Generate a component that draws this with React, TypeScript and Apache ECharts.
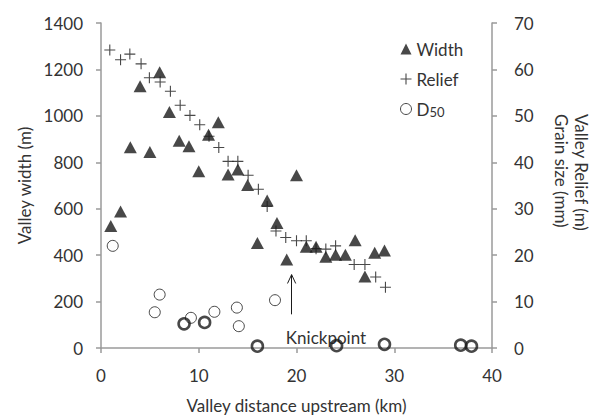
import React, { useEffect, useRef } from "react";
import * as echarts from "echarts";

// Valley width (m) vs distance upstream (km)
const widthKm = [1, 2, 3, 4, 5, 6, 7, 8, 9, 10, 11, 12, 13, 14, 15, 16, 17, 18, 19, 20, 21, 22, 23, 24, 25, 26, 27, 28, 29];
const widthM = [526, 588, 865, 1128, 844, 1188, 1017, 893, 869, 761, 919, 972, 747, 769, 702, 452, 635, 538, 381, 744, 436, 436, 393, 402, 402, 464, 308, 410, 420];

// Valley relief (m) vs distance upstream (km)
const reliefKm = [0.9, 2.0, 2.95, 4.1, 4.95, 6.05, 7.1, 8.1, 9.1, 10.1, 11.05, 12.05, 13.0, 14.0, 15.05, 16.1, 17.0, 17.9, 18.9, 20.0, 21.0, 22.0, 23.0, 24.0, 25.9, 27.0, 28.1, 29.1];
const reliefM = [64.2, 62.1, 63.3, 61.2, 58.2, 57.3, 55.3, 52.3, 50.1, 48.1, 45.6, 43.2, 40.2, 40.2, 37.2, 34.2, 30.5, 25.2, 23.8, 23.1, 23.1, 21.4, 21.3, 22.0, 18.0, 18.0, 15.3, 13.1];

// Grain size D50 (mm) vs distance upstream (km); samples = overlapping points
const d50Km = [1.2, 5.5, 6.0, 8.5, 9.2, 10.6, 11.6, 13.9, 14.1, 16.0, 17.8, 24.1, 29.0, 36.8, 37.9];
const d50Mm = [22.0, 7.7, 11.5, 5.2, 6.5, 5.5, 7.8, 8.7, 4.7, 0.4, 10.3, 0.5, 0.8, 0.6, 0.4];
const d50Samples = [1, 1, 1, 2, 1, 2, 1, 1, 1, 2, 1, 2, 2, 2, 2];

// Axis ticks
const xTicks = { min: 0, max: 40, interval: 10 };
const yLeftTicks = { min: 0, max: 1400, interval: 200 };
const yRightTicks = { min: 0, max: 70, interval: 10 };

// Knickpoint annotation (data coordinates on the width axis)
const knickKm = 19.5;
const knickFromM = 145;
const knickToM = 316;

const FONT = "Lato";
const TXT = "#333333";
const AX = "#9a9a9a";
const MARK = "#1a1a1a";

const plusPath = "path://M0,9H20V11H0Z M9,0H11V20H9Z";

export default function App() {
  const ref = useRef<HTMLDivElement>(null);
  useEffect(() => {
    document.body.style.margin = "0";
    const chart = echarts.init(ref.current!, null, { renderer: "svg" });
    const axisCommon = {
      axisLine: { show: true, lineStyle: { color: AX, width: 1.5 } },
      axisTick: { show: true, inside: false, length: 5, lineStyle: { color: AX, width: 1.5 } },
      splitLine: { show: false },
    };
    const plain = (v: number) => String(v);
    const option: any = {
      animation: false,
      textStyle: { fontFamily: FONT },
      grid: { left: 101, right: 102, top: 23, bottom: 68, containLabel: false },
      legend: {
        data: [
          { name: "Width" },
          { name: "Relief" },
          { name: "D50", itemStyle: { borderWidth: 1 } },
        ],
        orient: "vertical",
        left: 395,
        top: 34,
        itemWidth: 11,
        itemHeight: 11,
        itemGap: 10,
        selectedMode: false,
        formatter: (name: string) => (name === "D50" ? "{n|D}{s|50}" : name),
        textStyle: {
          fontFamily: FONT,
          fontSize: 17,
          color: TXT,
          lineHeight: 20,
          rich: {
            n: { fontFamily: FONT, fontSize: 17, color: TXT, lineHeight: 20 },
            s: { fontFamily: FONT, fontSize: 13, color: TXT, lineHeight: 13, padding: [6, 0, 0, 0] },
          },
        },
      },
      xAxis: {
        type: "value",
        ...xTicks,
        ...axisCommon,
        axisLabel: { fontSize: 17, color: TXT, margin: 19, fontFamily: FONT, formatter: plain },
        name: "Valley distance upstream (km)",
        nameLocation: "middle",
        nameGap: 49,
        nameTextStyle: { fontSize: 17, color: TXT, fontFamily: FONT },
      },
      yAxis: [
        {
          type: "value",
          position: "left",
          ...yLeftTicks,
          ...axisCommon,
          axisLabel: { fontSize: 17, color: TXT, margin: 18, fontFamily: FONT, formatter: plain },
          name: "Valley width (m)",
          nameLocation: "middle",
          nameGap: 64,
          nameTextStyle: { fontSize: 17, color: TXT, fontFamily: FONT },
        },
        {
          type: "value",
          position: "right",
          ...yRightTicks,
          ...axisCommon,
          axisLabel: { fontSize: 17, color: TXT, margin: 22, fontFamily: FONT, formatter: plain },
        },
      ],
      graphic: [
        {
          type: "text",
          x: 326,
          y: 337,
          style: { text: "Knickpoint", font: `17px ${FONT}`, fill: TXT, align: "center", verticalAlign: "middle" },
        },
        {
          type: "text",
          x: 571,
          y: 114,
          rotation: -Math.PI / 2,
          style: {
            text: "Valley Relief (m)\nGrain size (mm)",
            font: `17px ${FONT}`,
            fill: TXT,
            align: "left",
            verticalAlign: "middle",
            lineHeight: 20,
          },
        },
      ],
      series: [
        {
          name: "Width",
          type: "scatter",
          yAxisIndex: 0,
          symbol: "triangle",
          symbolSize: [13, 12],
          itemStyle: { color: MARK },
          emphasis: { disabled: true },
          data: widthKm.map((x, i) => [x, widthM[i]]),
          z: 3,
          markLine: {
            silent: true,
            symbol: "none",
            animation: false,
            label: { show: false },
            emphasis: { disabled: true },
            lineStyle: { color: MARK, width: 1, type: "solid" },
            data: [
              [{ coord: [knickKm, knickFromM] }, { coord: [knickKm, knickToM] }],
              [{ coord: [knickKm - 0.42, knickToM - 38] }, { coord: [knickKm, knickToM] }],
              [{ coord: [knickKm + 0.42, knickToM - 38] }, { coord: [knickKm, knickToM] }],
            ],
          },
        },
        {
          name: "Relief",
          type: "scatter",
          yAxisIndex: 1,
          symbol: plusPath,
          symbolSize: 11,
          itemStyle: { color: MARK },
          emphasis: { disabled: true },
          data: reliefKm.map((x, i) => [x, reliefM[i]]),
          z: 4,
        },
        {
          name: "D50",
          type: "scatter",
          yAxisIndex: 1,
          symbol: "circle",
          symbolSize: 11,
          itemStyle: { color: "rgba(0,0,0,0)", borderColor: MARK, borderWidth: 1 },
          emphasis: { disabled: true },
          data: d50Km.map((x, i) => ({
            value: [x, d50Mm[i]],
            itemStyle: { borderWidth: d50Samples[i] > 1 ? 2.6 : 1 },
          })),
          z: 5,
        },
      ],
    };
    chart.setOption(option);
    return () => chart.dispose();
  }, []);
  return <div ref={ref} style={{ width: 594, height: 419 }} />;
}
